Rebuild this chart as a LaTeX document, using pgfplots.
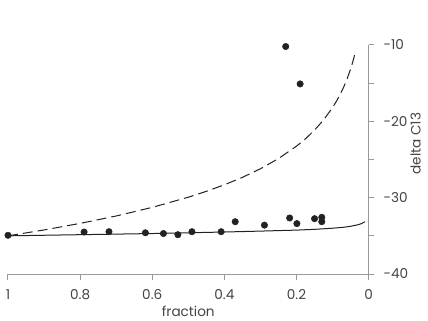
\documentclass[border=0pt]{standalone}
\usepackage{pgfplots}
\pgfplotsset{compat=1.18}
\usepackage{fontspec}
\setmainfont{Poppins}
\definecolor{axgray}{HTML}{999999}
\definecolor{txt}{HTML}{444444}
\definecolor{ink}{HTML}{222222}
\begin{document}
\begin{tikzpicture}
\clip (-6pt,-35.25pt) rectangle (315pt,205.5pt);
\begin{axis}[
  at={(0,0)}, anchor=south west,
  scale only axis, width=270.5pt, height=171.75pt,
  x dir=reverse, xmin=0, xmax=1, ymin=-40, ymax=-10,
  axis x line=bottom, axis y line=right,
  x axis line style={-, axgray, line width=0.75pt},
  y axis line style={-, axgray, line width=0.75pt},
  xtick={0,0.2,0.4,0.6,0.8,1}, xticklabels={0,0.2,0.4,0.6,0.8,1},
  ytick={-40,-30,-20,-10}, minor ytick={-35,-25,-15},
  tick align=outside, major tick length=4.3pt, minor tick length=4.3pt,
  every tick/.style={axgray, line width=0.75pt},
  tick style={axgray, line width=0.75pt},
  /pgf/number format/assume math mode=true,
  ticklabel style={font=\fontsize{10.2}{12}\selectfont, text=txt, inner sep=0pt},
  xticklabel style={anchor=north},
  yticklabel style={anchor=west},
  xticklabel shift=6.9pt, yticklabel shift=6.7pt,
  label style={font=\fontsize{10.2}{12}\selectfont, text=txt, inner sep=0pt},
  xlabel={fraction}, ylabel={delta C13},
  xlabel style={at={(axis description cs:0.5,-0.14)}, anchor=north},
  ylabel style={at={(axis description cs:1.145,0.57)}, anchor=south},
  clip=false,
]
\addplot[ink, line width=0.75pt, dash pattern=on 7.5pt off 3.75pt] coordinates {
(1,-35) (0.9,-34.23) (0.8,-33.37) (0.7,-32.40) (0.6,-31.27) (0.5,-29.94)
(0.45,-29.17) (0.4,-28.31) (0.35,-27.34) (0.3,-26.21) (0.25,-24.88)
(0.2,-23.25) (0.175,-22.28) (0.15,-21.15) (0.125,-19.82) (0.1,-18.19)
(0.09,-17.42) (0.08,-16.56) (0.07,-15.59) (0.06,-14.46) (0.05,-13.13)
(0.045,-12.36) (0.04,-11.50) (0.037,-10.93)
};
\addplot[ink, line width=0.75pt] coordinates {
(1,-35) (0.8,-34.85) (0.6,-34.7) (0.5,-34.6) (0.4,-34.5) (0.3,-34.38)
(0.2,-34.25) (0.15,-34.15) (0.1,-34.0) (0.07,-33.88) (0.05,-33.75)
(0.03,-33.55) (0.02,-33.4) (0.01,-33.15)
};
\addplot[only marks, mark=*, mark size=2.4pt, mark options={fill=ink, draw=ink}] coordinates {
(1,-34.93) (0.789,-34.5) (0.72,-34.46) (0.619,-34.6) (0.569,-34.7)
(0.529,-34.85) (0.49,-34.46) (0.409,-34.46) (0.37,-33.15) (0.289,-33.6)
(0.23,-10.2) (0.219,-32.66) (0.199,-33.4) (0.19,-15.1) (0.15,-32.75)
(0.13,-32.57) (0.13,-33.15)
};
\end{axis}
\end{tikzpicture}
\end{document}
